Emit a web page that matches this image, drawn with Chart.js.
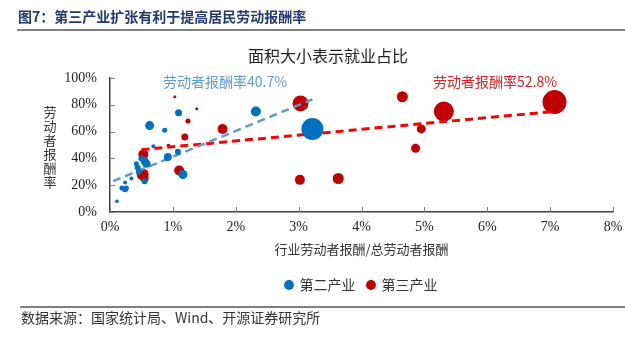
<!DOCTYPE html>
<html>
<head>
<meta charset="utf-8">
<script src="https://cdn.jsdelivr.net/npm/chart.js@4.4.1/dist/chart.umd.min.js"></script>
<style>
  html, body { margin: 0; padding: 0; background: #fff; }
</style>
</head>
<body>
<canvas id="chart" width="625" height="340"></canvas>
<script>
// 第二产业: 行业劳动者报酬占比 (x, %), 劳动者报酬率 (y, %), 就业占比 -> 气泡半径
const secondX = [0.11, 0.19, 0.24, 0.26, 0.24, 0.34, 0.42, 0.44, 0.46, 0.50, 0.55, 0.58, 0.55, 0.63, 0.69, 0.87, 0.92, 1.09, 1.08, 1.16, 2.32, 3.22];
const secondY = [8, 18, 17, 18, 22, 25, 36, 33, 30, 40, 38, 36, 23, 64.5, 49, 61, 41, 74, 45, 28, 75, 62];
const secondR = [1.8, 2.5, 3, 2.5, 2, 2, 2.5, 3, 3, 3, 4, 4, 3, 4.5, 2, 2.5, 4, 3.5, 3, 4.5, 5, 11];

// 第三产业
const thirdX = [1.03, 1.38, 1.24, 1.19, 0.93, 1.79, 0.53, 0.52, 0.55, 1.10, 3.03, 3.02, 3.63, 4.65, 5.31, 4.95, 4.86, 7.07];
const thirdY = [86, 77, 68, 56, 49.5, 62, 43, 28, 25, 31, 81, 24, 25, 86, 75, 62, 47.5, 82];
const thirdR = [1.5, 1.5, 2.5, 3.5, 2, 5, 5, 6, 4, 5, 8, 5, 5.5, 5.5, 10, 4.5, 4.5, 12];

// 趋势线端点
const secondTrendX = [0.05, 3.22];
const secondTrendY = [23, 84];
const thirdTrendX = [0.5, 7.05];
const thirdTrendY = [46.5, 75];

const xTicks = [0, 1, 2, 3, 4, 5, 6, 7, 8];
const yTicks = [0, 20, 40, 60, 80, 100];

const BLUE = '#0070C0';
const RED = '#C00000';
const CJK = '"Noto Sans CJK SC", sans-serif';
const SERIF = '"Liberation Serif", "Times New Roman", serif';

function bubbles(xs, ys, rs) {
    return xs.map((x, i) => ({ x: x, y: ys[i], r: rs[i] }));
}
function points(xs, ys) {
    return xs.map((x, i) => ({ x: x, y: ys[i] }));
}

// header, footer, notes, inward tick marks
const decor = {
    id: 'decor',
    beforeDatasetsDraw(chart) {
        const ctx = chart.ctx;
        const xs = chart.scales.x, ys = chart.scales.y;
        const area = chart.chartArea;
        ctx.save();
        ctx.strokeStyle = '#7f7f7f';
        ctx.lineWidth = 1;
        xTicks.forEach(v => {
            const px = Math.round(xs.getPixelForValue(v)) + 0.5;
            ctx.beginPath();
            ctx.moveTo(px, area.bottom);
            ctx.lineTo(px, area.bottom - 5);
            ctx.stroke();
        });
        yTicks.forEach(v => {
            const py = Math.round(ys.getPixelForValue(v)) + 0.5;
            ctx.beginPath();
            ctx.moveTo(area.left, py);
            ctx.lineTo(area.left + 5, py);
            ctx.stroke();
        });
        ctx.restore();
    },
    afterDraw(chart) {
        const ctx = chart.ctx;
        ctx.save();
        ctx.textBaseline = 'middle';

        // header
        ctx.fillStyle = '#1F3A70';
        ctx.font = 'bold 14px ' + CJK;
        ctx.textAlign = 'left';
        ctx.fillText('图7：第三产业扩张有利于提高居民劳动报酬率', 18, 17);
        ctx.strokeStyle = '#7f7f7f';
        ctx.lineWidth = 2;
        ctx.beginPath();
        ctx.moveTo(17, 30);
        ctx.lineTo(625, 30);
        ctx.stroke();

        // chart subtitle
        ctx.fillStyle = '#222';
        ctx.font = '16px ' + CJK;
        ctx.textAlign = 'center';
        ctx.fillText('面积大小表示就业占比', 328, 56);

        // trend notes
        ctx.font = '14px ' + CJK;
        ctx.textAlign = 'left';
        ctx.fillStyle = '#5B9BD5';
        ctx.fillText('劳动者报酬率40.7%', 163, 82);
        ctx.fillStyle = '#E02020';
        ctx.fillText('劳动者报酬率52.8%', 433, 82);

        // y axis title, stacked
        ctx.fillStyle = '#333';
        ctx.font = '13px ' + CJK;
        ctx.textAlign = 'center';
        '劳动者报酬率'.split('').forEach((ch, i) => {
            ctx.fillText(ch, 50, 112 + i * 14);
        });

        // footer
        ctx.strokeStyle = '#7f7f7f';
        ctx.lineWidth = 2;
        ctx.beginPath();
        ctx.moveTo(20, 307);
        ctx.lineTo(625, 307);
        ctx.stroke();
        ctx.fillStyle = '#333';
        ctx.font = '14px ' + CJK;
        ctx.textAlign = 'left';
        ctx.fillText('数据来源：国家统计局、Wind、开源证券研究所', 21, 318);
        ctx.restore();
    }
};

new Chart(document.getElementById('chart'), {
    type: 'bubble',
    data: {
        datasets: [
            {
                label: '第二产业',
                data: bubbles(secondX, secondY, secondR),
                backgroundColor: BLUE,
                borderColor: BLUE,
                borderWidth: 0,
                hoverRadius: 0
            },
            {
                type: 'line',
                label: 'trend2',
                data: points(secondTrendX, secondTrendY),
                borderColor: '#5B9BD5',
                borderWidth: 2.5,
                borderDash: [8, 5],
                pointRadius: 0,
                fill: false
            },
            {
                type: 'line',
                label: 'trend3',
                data: points(thirdTrendX, thirdTrendY),
                borderColor: '#FF0000',
                borderWidth: 3,
                borderDash: [8, 5],
                pointRadius: 0,
                fill: false
            },
            {
                label: '第三产业',
                data: bubbles(thirdX, thirdY, thirdR),
                backgroundColor: RED,
                borderColor: RED,
                borderWidth: 0,
                hoverRadius: 0
            }
        ]
    },
    options: {
        responsive: false,
        animation: false,
        layout: { padding: { left: 0, right: 0, top: 78, bottom: 38 } },
        plugins: {
            legend: {
                position: 'bottom',
                fullSize: false,   // centre the legend under the plot, not the canvas
                labels: {
                    usePointStyle: true,
                    pointStyle: 'circle',
                    boxWidth: 7,
                    boxHeight: 7,
                    padding: 12,
                    color: '#333',
                    font: { family: CJK, size: 14 },
                    filter: item => item.text.indexOf('trend') !== 0
                }
            },
            tooltip: { enabled: false },
            title: { display: false }
        },
        scales: {
            x: {
                type: 'linear',
                min: 0,
                max: 8,
                grid: { display: false, drawTicks: false },
                border: { display: true, color: '#404040', width: 1.5 },
                ticks: {
                    stepSize: 1,
                    padding: 7,
                    color: '#222',
                    font: { family: SERIF, size: 14 },
                    callback: v => v + '%'
                },
                title: {
                    display: true,
                    text: '行业劳动者报酬/总劳动者报酬',
                    color: '#333',
                    font: { family: CJK, size: 13 },
                    padding: { top: 0, bottom: 9 }
                },
                afterFit: scale => {
                    scale.height = 54;
                    scale.paddingLeft = 0;
                    scale.paddingRight = 10;
                }
            },
            y: {
                type: 'linear',
                min: 0,
                max: 100,
                grid: { display: false, drawTicks: false },
                border: { display: true, color: '#404040', width: 1.5 },
                ticks: {
                    stepSize: 20,
                    padding: 13,
                    color: '#222',
                    font: { family: SERIF, size: 14 },
                    callback: v => v + '%'
                },
                afterFit: scale => { scale.width = 110; }
            }
        }
    },
    plugins: [decor]
});
</script>
</body>
</html>
